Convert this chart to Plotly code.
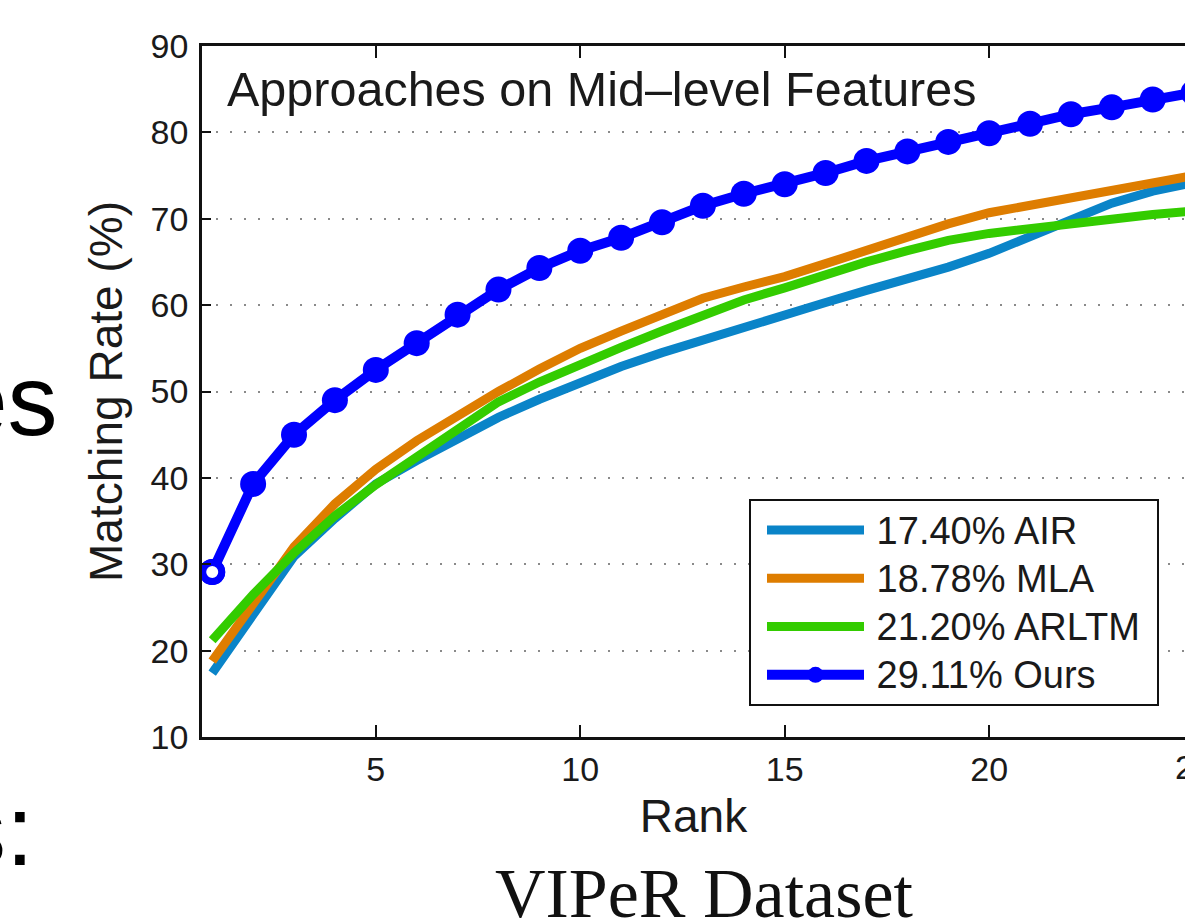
import plotly.graph_objects as go

ranks = list(range(1, 26))
air = [17.4, 24.0, 30.9, 35.3, 39.3, 42.0, 44.6, 47.0, 49.1, 51.1, 52.9, 54.5, 56.0, 57.4, 58.8,
       60.3, 61.7, 63.0, 64.4, 66.0, 67.9, 70.0, 71.8, 73.2, 74.2]
mla = [18.78, 25.3, 32.0, 37.0, 41.0, 44.3, 47.2, 50.0, 52.6, 55.0, 57.0, 59.0, 60.8, 62.1, 63.3,
       64.8, 66.4, 67.8, 69.4, 70.7, 71.6, 72.5, 73.3, 74.1, 75.0]
arltm = [21.2, 26.5, 31.3, 35.6, 39.2, 42.4, 45.6, 48.8, 51.1, 53.2, 55.1, 57.0, 58.9, 60.6, 62.0,
         63.6, 65.0, 66.3, 67.5, 68.3, 68.9, 69.5, 70.0, 70.5, 70.9]
ours = [29.11, 39.3, 45.0, 49.0, 52.5, 55.6, 58.9, 61.8, 64.3, 66.3, 67.8, 69.6, 71.5, 72.9, 74.0,
        75.3, 76.7, 77.8, 78.9, 79.9, 81.0, 82.1, 82.9, 83.8, 84.6]
names = ["17.40% AIR", "18.78% MLA", "21.20% ARLTM", "29.11% Ours"]
yticks = [10, 20, 30, 40, 50, 60, 70, 80, 90]
xticks = [5, 10, 15, 20]

W, H = 1185, 921
L, R, T, B = 202, 0, 46, 184
pw, ph = W - L - R, H - T - B

def px(xp):
    return (xp - L) / pw

def py(yp):
    return (H - B - yp) / ph

def lg(nm):
    return "<span style='font-size:38px'>\u2009" + nm + "</span>"

fig = go.Figure()
cols = ["#0a84c8", "#de7d00", "#33cc00"]
for vals, nm, c in zip([air, mla, arltm], names[:3], cols):
    fig.add_trace(go.Scatter(x=ranks, y=vals, name=lg(nm), mode="lines",
                             line=dict(color=c, width=9)))
fig.add_trace(go.Scatter(x=ranks, y=ours, name=lg(names[3]), mode="lines+markers",
                         line=dict(color="#0000ff", width=10),
                         marker=dict(color="#0000ff", size=26, symbol="circle")))
fig.add_trace(go.Scatter(x=ranks[:1], y=ours[:1], mode="markers", showlegend=False,
                         marker=dict(color="white", size=19, symbol="circle",
                                     line=dict(color="#0000ff", width=7))))

font = "Liberation Sans, Arial, sans-serif"
fig.update_layout(
    width=W, height=H,
    margin=dict(l=L, r=R, t=T, b=B, pad=0),
    paper_bgcolor="white", plot_bgcolor="white",
    font=dict(family=font, color="#1a1a1a"),
    showlegend=True,
    legend=dict(x=px(762), y=py(501), xanchor="left", yanchor="top",
                borderwidth=0, bgcolor="rgba(0,0,0,0)",
                font=dict(size=34.8, family=font, color="#1a1a1a"),
                itemwidth=97, tracegroupgap=0),
    xaxis=dict(range=[0.75, 1 + (1185 - 212) / 40.9], tickvals=xticks,
               ticks="inside", ticklen=12, tickwidth=2, tickcolor="#111",
               showline=True, linecolor="#111", linewidth=2.5, mirror="ticks",
               showgrid=False, zeroline=False,
               tickfont=dict(size=34, family=font, color="#1a1a1a"),
               title=dict(text="Rank", font=dict(size=46, family=font, color="#1a1a1a"), standoff=14)),
    yaxis=dict(range=[10, 90], tickvals=yticks,
               ticks="inside", ticklen=9, tickwidth=2, tickcolor="#111",
               showline=True, linecolor="#111", linewidth=2.5, mirror=False,
               showgrid=True, gridcolor="#8a8a8a", gridwidth=2, griddash="2px,12px",
               zeroline=False, ticklabelstandoff=4,
               tickfont=dict(size=34, family=font, color="#1a1a1a"),
               title=dict(text="Matching Rate (%)", font=dict(size=46, family=font, color="#1a1a1a"), standoff=14)),
)

# legend frame
fig.add_shape(type="rect", xref="paper", yref="paper",
              x0=px(750), x1=px(1158), y0=py(705), y1=py(500),
              line=dict(color="#111", width=2), fillcolor="white", layer="above")

fig.add_annotation(text="Approaches on Mid\u2013level Features", xref="paper", yref="paper",
                   x=px(225), y=py(89), xanchor="left", yanchor="middle", showarrow=False,
                   font=dict(size=48.5, family=font, color="#1a1a1a"))
fig.add_annotation(text="VIPeR Dataset", xref="paper", yref="paper",
                   x=px(704), y=py(893), xanchor="center", yanchor="middle", showarrow=False,
                   font=dict(size=70, family="Liberation Serif, Times New Roman, serif", color="#111"))
fig.add_annotation(text="25", xref="paper", yref="paper",
                   x=px(1194), y=py(767), xanchor="center", yanchor="middle", showarrow=False,
                   font=dict(size=34, family=font, color="#1a1a1a"))
fig.add_annotation(text="es", xref="paper", yref="paper",
                   x=px(60), y=py(400), xanchor="right", yanchor="middle", showarrow=False,
                   font=dict(size=100, family=font, color="black"))
fig.add_annotation(text="s:", xref="paper", yref="paper",
                   x=px(36), y=py(830), xanchor="right", yanchor="middle", showarrow=False,
                   font=dict(size=100, family=font, color="black"))

fig.write_html("out.html")
